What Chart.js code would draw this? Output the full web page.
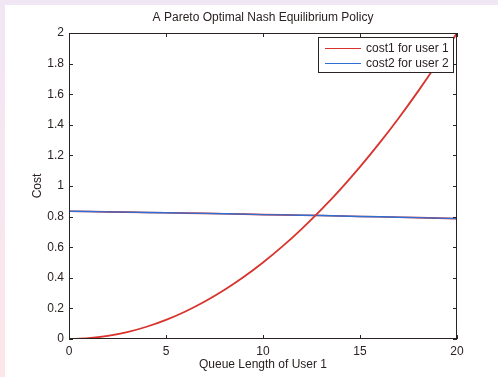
<!DOCTYPE html>
<html>
<head>
<meta charset="utf-8">
<script src="https://cdn.jsdelivr.net/npm/chart.js@4"></script>
<style>
  html, body { margin: 0; padding: 0; }
  body { width: 498px; height: 377px; overflow: hidden;
         background: linear-gradient(180deg, #f1e6f4 0%, #f8e6ef 60%, #fde6ea 100%); }
  #wrap { position: absolute; left: 5px; top: 5px; width: 493px; height: 372px; background: #fff; }
</style>
</head>
<body>
<div id="wrap"><canvas id="chart" width="493" height="372"></canvas></div>
<script>
// ---------- data ----------
const queueLen = [0, 1, 2, 3, 4, 5, 6, 7, 8, 9, 10, 11, 12, 13, 14, 15, 16, 17, 18, 19, 20];
const cost1 = [0, 0.005, 0.02, 0.045, 0.08, 0.125, 0.18, 0.245, 0.32, 0.405, 0.5,
               0.605, 0.72, 0.845, 0.98, 1.125, 1.28, 1.445, 1.62, 1.805, 2.0];
const cost2 = [0.835, 0.833, 0.831, 0.829, 0.827, 0.825, 0.823, 0.821, 0.819, 0.816, 0.813,
               0.811, 0.809, 0.807, 0.804, 0.801, 0.799, 0.796, 0.793, 0.79, 0.787];
const xTicks = [0, 5, 10, 15, 20];
const yTicks = [0, 0.2, 0.4, 0.6, 0.8, 1, 1.2, 1.4, 1.6, 1.8, 2];

const INK = '#2b2222';
const RED = '#d8332c';
const BLUE = '#2f6fd4';
const FONT = { family: '"Liberation Sans", Arial, sans-serif', size: 12 };

const pts = ys => queueLen.map((x, i) => ({ x: x, y: ys[i] }));

// box + inward tick marks, matlab style
const boxTicks = {
  id: 'boxTicks',
  afterDraw(chart) {
    const { ctx, chartArea: a, scales } = chart;
    ctx.save();
    ctx.strokeStyle = INK;
    ctx.lineWidth = 1;
    ctx.strokeRect(a.left + 0.5, a.top + 0.5, a.right - a.left - 1, a.bottom - a.top - 1);
    ctx.beginPath();
    xTicks.forEach(v => {
      const x = Math.round(scales.x.getPixelForValue(v)) + 0.5;
      ctx.moveTo(x, a.bottom); ctx.lineTo(x, a.bottom - 4);
      ctx.moveTo(x, a.top); ctx.lineTo(x, a.top + 4);
    });
    yTicks.forEach(v => {
      const y = Math.round(scales.y.getPixelForValue(v)) + 0.5;
      ctx.moveTo(a.left, y); ctx.lineTo(a.left + 4, y);
      ctx.moveTo(a.right, y); ctx.lineTo(a.right - 4, y);
    });
    ctx.stroke();
    ctx.restore();
  }
};

// legend box in the top right corner
const boxLegend = {
  id: 'boxLegend',
  afterDraw(chart) {
    const { ctx, chartArea: a } = chart;
    const items = chart.data.datasets.filter(d => !d.hideInLegend);
    const w = 135, h = 35;
    const x0 = a.right - 4 - w, y0 = a.top + 4;
    ctx.save();
    ctx.fillStyle = '#fff';
    ctx.fillRect(x0, y0, w, h);
    ctx.strokeStyle = INK;
    ctx.lineWidth = 1;
    ctx.strokeRect(x0 + 0.5, y0 + 0.5, w, h);
    ctx.font = FONT.size + 'px ' + FONT.family;
    ctx.textBaseline = 'middle';
    items.forEach((d, i) => {
      const y = Math.round(y0 + 11 + i * 15);
      ctx.strokeStyle = d.borderColor;
      ctx.lineWidth = 1;
      ctx.beginPath();
      ctx.moveTo(x0 + 7, y + 0.5); ctx.lineTo(x0 + 43, y + 0.5);
      ctx.stroke();
      ctx.fillStyle = INK;
      ctx.fillText(d.label, x0 + 48, y + 1);
    });
    ctx.restore();
  }
};

new Chart(document.getElementById('chart'), {
  type: 'line',
  data: {
    datasets: [
      { label: 'cost1 flat', data: pts(cost2), borderColor: RED, borderWidth: 1.6,
        pointRadius: 0, hideInLegend: true, order: 3 },
      { label: 'cost1 for user 1', data: pts(cost1), borderColor: RED, borderWidth: 1.8,
        pointRadius: 0, cubicInterpolationMode: 'monotone', order: 1 },
      { label: 'cost2 for user 2', data: pts(cost2), borderColor: BLUE, borderWidth: 1.4,
        pointRadius: 0, order: 2 }
    ]
  },
  options: {
    responsive: false,
    animation: false,
    devicePixelRatio: 1,
    layout: { padding: { left: 0, right: 41, top: 0, bottom: 0 } },
    plugins: {
      legend: { display: false },
      tooltip: { enabled: false },
      title: {
        display: true,
        fullSize: false,
        text: 'A Pareto Optimal Nash Equilibrium Policy',
        color: INK,
        font: { family: FONT.family, size: 12, weight: 'normal' },
        padding: { top: 5.8, bottom: 7.8 }
      }
    },
    scales: {
      x: {
        type: 'linear', min: 0, max: 20,
        afterFit: s => { s.height = 38; },
        afterBuildTicks: s => { s.ticks = xTicks.map(v => ({ value: v })); },
        grid: { display: false, drawTicks: false },
        border: { display: false },
        ticks: { color: INK, font: FONT, padding: 5, maxRotation: 0 },
        title: { display: true, text: 'Queue Length of User 1', color: INK, font: FONT,
                 padding: { top: 0, bottom: 5 } }
      },
      y: {
        type: 'linear', min: 0, max: 2,
        afterFit: s => { s.width = 64; },
        afterBuildTicks: s => { s.ticks = yTicks.map(v => ({ value: v })); },
        grid: { display: false, drawTicks: false },
        border: { display: false },
        ticks: { color: INK, font: FONT, padding: 5, callback: v => String(+v.toFixed(1)) },
        title: { display: true, text: 'Cost', color: INK, font: FONT,
                 padding: { top: 25.8, bottom: 0 } }
      }
    }
  },
  plugins: [boxTicks, boxLegend]
});
</script>
</body>
</html>
